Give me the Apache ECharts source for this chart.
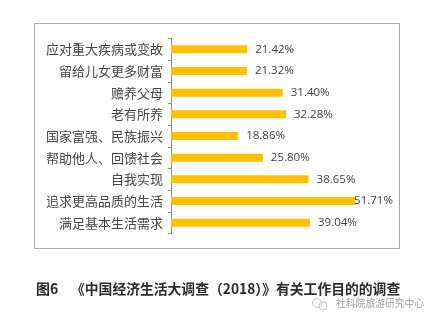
<!DOCTYPE html>
<html>
<head>
<meta charset="utf-8">
<script src="https://cdn.jsdelivr.net/npm/echarts@6/dist/echarts.min.js"></script>
<style>
html,body{margin:0;padding:0;background:#fff;}
#chart{width:439px;height:323px;}
</style>
</head>
<body>
<div id="chart"></div>
<script>
const categories = ['应对重大疾病或变故','留给儿女更多财富','赡养父母','老有所养','国家富强、民族振兴','帮助他人、回馈社会','自我实现','追求更高品质的生活','满足基本生活需求'];
const values = [21.42, 21.32, 31.40, 32.28, 18.86, 25.80, 38.65, 51.71, 39.04];
const captionLabel = '图6';
const captionText = '《中国经济生活大调查（2018）》有关工作目的的调查';
const watermark = '社科院旅游研究中心';

const maxVal = Math.max(...values);
const chart = echarts.init(document.getElementById('chart'));
chart.setOption({
  animation: false,
  backgroundColor: '#fff',
  grid: {left: 171, top: 38.5, height: 195, right: 54.4},
  xAxis: {
    type: 'value', min: 0, max: 60,
    show: false
  },
  yAxis: {
    type: 'category', data: categories, inverse: true,
    axisLine: {show: true, lineStyle: {color: '#8c8c8c', width: 1}},
    axisTick: {show: true, length: 3, lineStyle: {color: '#8c8c8c'}},
    axisLabel: {color: '#454545', fontSize: 13, margin: 8, fontFamily: 'Noto Sans CJK SC'},
    splitLine: {show: false}
  },
  series: [{
    type: 'bar',
    barWidth: 8,
    data: values.map(v => ({
      value: v,
      label: {distance: v === maxVal ? -1 : 8}
    })),
    itemStyle: {color: '#FFC000'},
    label: {
      show: true, position: 'right',
      color: '#404040', fontSize: 11.5, fontFamily: 'Open Sans',
      formatter: p => p.value.toFixed(2) + '%'
    }
  }],
  graphic: [
    {type: 'rect', shape: {x: 34.5, y: 23.5, width: 365, height: 225},
     style: {fill: null, stroke: '#a8a8a8', lineWidth: 1}, z: -1},
    {type: 'text', left: 36, top: 282,
     style: {text: captionLabel, font: 'bold 14px "Noto Sans CJK SC"', fill: '#2a2a2a'}},
    {type: 'text', left: 71, top: 282,
     style: {text: captionText, font: 'bold 13.8px "Noto Sans CJK SC"', fill: '#2a2a2a'}},
    {type: 'circle', shape: {cx: 317, cy: 303, r: 4.5},
     style: {fill: null, stroke: '#c8c8c8', lineWidth: 1}},
    {type: 'circle', shape: {cx: 323, cy: 306, r: 4},
     style: {fill: null, stroke: '#c8c8c8', lineWidth: 1}},
    {type: 'text', left: 336, top: 298,
     style: {text: watermark, font: '9.8px "Noto Sans CJK SC"', fill: '#a0a0a0'}}
  ]
});
</script>
</body>
</html>
